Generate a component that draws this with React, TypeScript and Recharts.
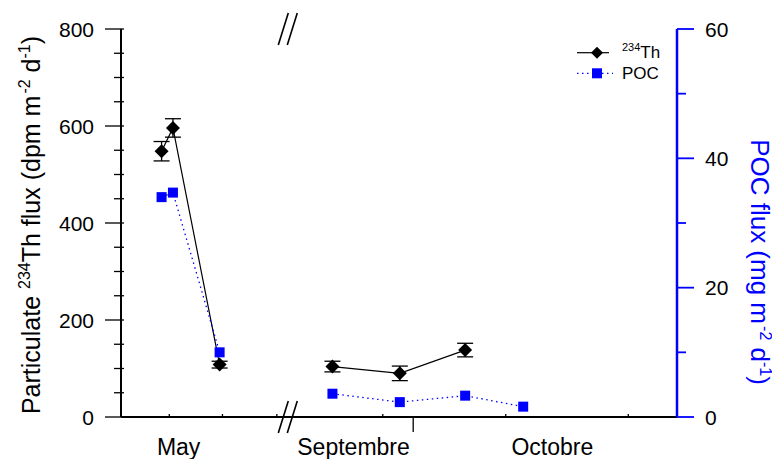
import { ComposedChart, ErrorBar, Legend, Line, ReferenceLine, XAxis, YAxis } from "recharts"

// sampling days on a compressed time axis (June-August cut out at the break)
const sampleDay = [10.0, 12.8, 24.3, 41.1, 52.1, 68.7, 84.8, 99.1]
const thFlux = [548, 596, 108, null, 104, 90, 138, null]
const thError = [20, 19, 7, null, 11, 15, 14, null]
const pocFlux = [34.0, 34.7, 10.0, null, 3.6, 2.3, 3.3, 1.6]

const dayTicks = [11.9, 25.0, 38.4, 64.5, 94.8, 125.0]
const markDay = 72.0
const breakDay = 41.1
const monthDays = [14.2, 57.3, 106.3]
const monthNames = ["May", "Septembre", "Octobre"]

const thTicks = [0, 50, 100, 150, 200, 250, 300, 350, 400, 450, 500, 550, 600, 650, 700, 750, 800]
const pocTicks = [0, 10, 20, 30, 40, 50, 60]

const data = sampleDay.map((day, i) => ({
  day,
  th: thFlux[i],
  thErr: thError[i],
  poc: pocFlux[i],
}))

const FONT = "'Liberation Sans', Arial, sans-serif"
const BLUE = "#0000ff"

const XTick = (props: any) => {
  const { x, y, payload } = props
  const v = payload.value
  const i = monthDays.indexOf(v)
  if (i >= 0) {
    return (
      <text x={x} y={y + 38} textAnchor="middle" fontSize={23} fontFamily={FONT} fill="#000">
        {monthNames[i]}
      </text>
    )
  }
  if (v === markDay) return <line x1={x} x2={x} y1={y} y2={y + 15} stroke="#000" strokeWidth={1.3} />
  return <line x1={x} x2={x} y1={y} y2={y - 3} stroke="#000" strokeWidth={1.3} />
}

const TopTick = (props: any) => {
  const { x, y } = props
  return <line x1={x} x2={x} y1={y} y2={y + 3} stroke="#000" strokeWidth={1.3} />
}

const LeftTick = (props: any) => {
  const { x, y, payload } = props
  const major = payload.value % 200 === 0
  return (
    <g>
      <line x1={x - (major ? 16 : 7)} x2={x + 3} y1={y} y2={y} stroke="#000" strokeWidth={1.3} />
      {major && (
        <text x={x - 27} y={y} dy="0.36em" textAnchor="end" fontSize={21} fontFamily={FONT} fill="#000">
          {payload.value}
        </text>
      )}
    </g>
  )
}

const RightTick = (props: any) => {
  const { x, y, payload } = props
  const major = payload.value % 20 === 0
  return (
    <g>
      <line x1={x} x2={x + (major ? 17 : 9)} y1={y} y2={y} stroke={BLUE} strokeWidth={1.8} />
      {major && (
        <text x={x + 28} y={y} dy="0.36em" textAnchor="start" fontSize={21} fontFamily={FONT} fill="#000">
          {payload.value}
        </text>
      )}
    </g>
  )
}

const LeftTitle = (props: any) => {
  const vb = props.viewBox
  const bx = vb.x + 32
  const cy = 217
  return (
    <text x={bx} y={cy} textAnchor="middle" fontSize={25} fontFamily={FONT} fill="#000" transform={`rotate(-90, ${bx}, ${cy})`}>
      Particulate{" "}
      <tspan dy={-10} fontSize={16}>234</tspan>
      <tspan dy={10}>Th flux (dpm m</tspan>
      <tspan dy={-10} fontSize={16} dx={2}>-2</tspan>
      <tspan dy={10}> d</tspan>
      <tspan dy={-10} fontSize={16}>-1</tspan>
      <tspan dy={10}>)</tspan>
    </text>
  )
}

const RightTitle = (props: any) => {
  const vb = props.viewBox
  const bx = vb.x + 74
  const cy = 254
  return (
    <text x={bx} y={cy} textAnchor="middle" fontSize={26} fontFamily={FONT} fill={BLUE} transform={`rotate(90, ${bx}, ${cy})`}>
      POC flux (mg m
      <tspan dy={-9} fontSize={16} dx={2}>-2</tspan>
      <tspan dy={9}> d</tspan>
      <tspan dy={-9} fontSize={16}>-1</tspan>
      <tspan dy={9}>)</tspan>
    </text>
  )
}

const BreakMarks = (props: any) => {
  const vb = props.viewBox
  const cx = vb.x
  const marks = [vb.y, vb.y + vb.height]
  return (
    <g>
      {marks.map((y, i) => (
        <g key={i}>
          <rect x={cx - 4.5} y={y - 3} width={9} height={6} fill="#fff" />
          <line x1={cx - 9.5} y1={y + 16} x2={cx + 0.5} y2={y - 16} stroke="#000" strokeWidth={1.6} />
          <line x1={cx - 0.5} y1={y + 16} x2={cx + 9.5} y2={y - 16} stroke="#000" strokeWidth={1.6} />
        </g>
      ))}
    </g>
  )
}

const diamondPath = (cx: number, cy: number, r: number) =>
  `M${cx},${cy - r}L${cx + r},${cy}L${cx},${cy + r}L${cx - r},${cy}Z`

const Diamond = (props: any) => {
  const { cx, cy, index } = props
  if (cy == null || isNaN(cy)) return <g key={`d${index}`} />
  return <path key={`d${index}`} d={diamondPath(cx, cy, 7)} fill="#000" />
}

const Square = (props: any) => {
  const { cx, cy, index } = props
  if (cy == null || isNaN(cy)) return <g key={`s${index}`} />
  return <rect key={`s${index}`} x={cx - 5} y={cy - 5} width={10} height={10} fill={BLUE} />
}

const LegendBox = (props: any) => {
  const payload = props.payload || []
  return (
    <svg width={110} height={50}>
      {payload.map((p: any, i: number) => {
        const y = i === 0 ? 14.7 : 35.3
        const name = String(p.value)
        const m = /^(\d+)(.*)$/.exec(name)
        return (
          <g key={name}>
            {i === 0 ? (
              <>
                <line x1={7} x2={39} y1={y} y2={y} stroke="#000" strokeWidth={1.2} />
                <path d={diamondPath(27, y, 6)} fill="#000" />
              </>
            ) : (
              <>
                <line x1={7} x2={43} y1={y} y2={y} stroke={BLUE} strokeWidth={1.3} strokeDasharray="1.5 3.5" />
                <rect x={22} y={y - 5} width={10} height={10} fill={BLUE} />
              </>
            )}
            <text x={52} y={y + 5.6} fontSize={17} fontFamily={FONT} fill="#000">
              {m ? (
                <>
                  <tspan dy={-7} fontSize={11}>{m[1]}</tspan>
                  <tspan dy={7}>{m[2]}</tspan>
                </>
              ) : (
                name
              )}
            </text>
          </g>
        )
      })}
    </svg>
  )
}

export default function App() {
  return (
    <ComposedChart width={772} height={451} data={data} margin={{ top: 21, right: 8, bottom: 0, left: 0 }}>
      <XAxis
        xAxisId="x"
        dataKey="day"
        type="number"
        domain={[0, 137]}
        ticks={[...dayTicks, markDay, ...monthDays]}
        interval={0}
        tick={<XTick />}
        tickLine={false}
        tickSize={0}
        tickMargin={0}
        height={42}
        axisLine={{ stroke: "#000", strokeWidth: 2 }}
      />
      <XAxis
        xAxisId="top"
        orientation="top"
        type="number"
        domain={[0, 137]}
        ticks={dayTicks}
        interval={0}
        tick={<TopTick />}
        tickLine={false}
        tickSize={0}
        tickMargin={0}
        height={0}
        axisLine={{ stroke: "#000", strokeWidth: 2 }}
      />
      <YAxis
        yAxisId="l"
        domain={[0, 800]}
        ticks={thTicks}
        interval={0}
        width={113}
        tick={<LeftTick />}
        tickLine={false}
        tickSize={0}
        tickMargin={0}
        axisLine={{ stroke: "#000", strokeWidth: 2 }}
        label={<LeftTitle />}
      />
      <YAxis
        yAxisId="r"
        orientation="right"
        domain={[0, 60]}
        ticks={pocTicks}
        interval={0}
        width={95}
        tick={<RightTick />}
        tickLine={false}
        tickSize={0}
        tickMargin={0}
        axisLine={{ stroke: BLUE, strokeWidth: 2.5 }}
        label={<RightTitle />}
      />
      <Line
        xAxisId="x"
        yAxisId="l"
        dataKey="th"
        name="234Th"
        stroke="#000"
        strokeWidth={1.2}
        dot={Diamond}
        activeDot={false}
        isAnimationActive={false}
      >
        <ErrorBar dataKey="thErr" width={8} stroke="#000" strokeWidth={1.3} direction="y" isAnimationActive={false} />
      </Line>
      <Line
        xAxisId="x"
        yAxisId="r"
        dataKey="poc"
        name="POC"
        stroke={BLUE}
        strokeWidth={1.3}
        strokeDasharray="1.5 3.5"
        dot={Square}
        activeDot={false}
        isAnimationActive={false}
      />
      <Legend
        layout="horizontal"
        verticalAlign="middle"
        align="center"
        content={<LegendBox />}
        wrapperStyle={{ position: "absolute", left: 562, top: 30, width: 110, height: 50 }}
      />
      <ReferenceLine xAxisId="x" yAxisId="l" x={breakDay} stroke="none" label={<BreakMarks />} />
    </ComposedChart>
  )
}
